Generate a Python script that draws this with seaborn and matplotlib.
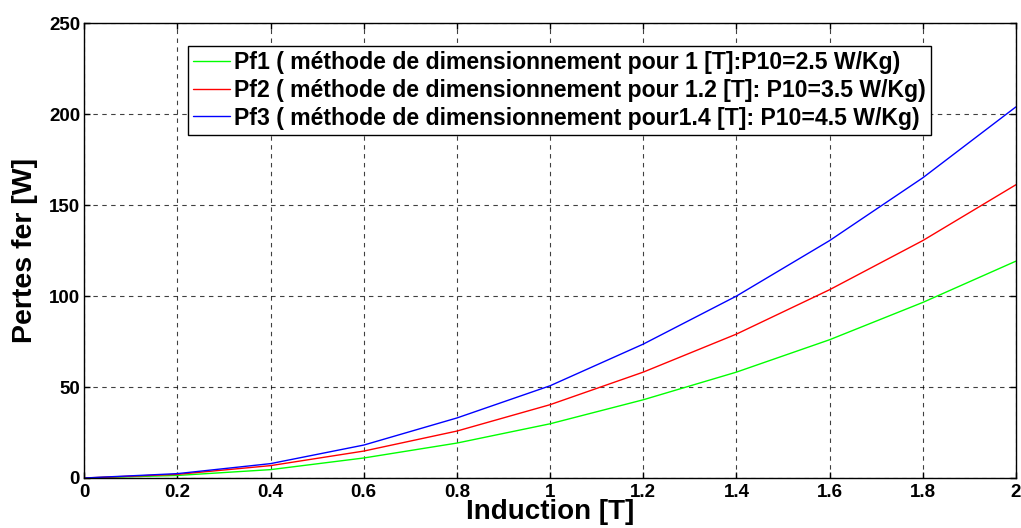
import numpy as np
import pandas as pd
import matplotlib
matplotlib.use("Agg")
import matplotlib.pyplot as plt
import seaborn as sns

induction = [0.0, 0.2, 0.4, 0.6, 0.8, 1.0, 1.2, 1.4, 1.6, 1.8, 2.0]
pf1 = [0.0, 1.4, 4.6, 11.0, 19.2, 29.8, 43.0, 58.2, 76.0, 96.5, 119.2]
pf2 = [0.0, 2.0, 6.8, 14.8, 25.8, 40.3, 58.2, 79.1, 103.5, 130.5, 161.2]
pf3 = [0.0, 2.4, 7.9, 18.1, 33.0, 50.7, 73.6, 100.0, 130.5, 165.0, 204.0]
labels = [
    "Pf1 ( méthode de dimensionnement pour 1 [T]:P10=2.5 W/Kg)",
    "Pf2 ( méthode de dimensionnement pour 1.2 [T]: P10=3.5 W/Kg)",
    "Pf3 ( méthode de dimensionnement pour1.4 [T]: P10=4.5 W/Kg)",
]
colors = ["#00ff00", "#ff0000", "#0000ff"]
xticks = [0, 0.2, 0.4, 0.6, 0.8, 1, 1.2, 1.4, 1.6, 1.8, 2]
xticklabels = ["0", "0.2", "0.4", "0.6", "0.8", "1", "1.2", "1.4", "1.6", "1.8", "2"]
yticks = [0, 50, 100, 150, 200, 250]

df = pd.DataFrame({
    "Induction": induction * 3,
    "Pertes": pf1 + pf2 + pf3,
    "serie": [labels[0]] * len(induction) + [labels[1]] * len(induction) + [labels[2]] * len(induction),
})

sns.set_theme(style="white")
plt.rcParams['font.family'] = ['Liberation Sans', 'DejaVu Sans']
plt.rcParams['font.weight'] = 'bold'
plt.rcParams['text.color'] = 'black'
plt.rcParams['axes.labelcolor'] = 'black'
plt.rcParams['xtick.color'] = 'black'
plt.rcParams['ytick.color'] = 'black'

fig = plt.figure(figsize=(10.21, 5.28), dpi=100)
ax = fig.add_axes([0.0825, 0.0947, 0.9125, 0.8613])

sns.lineplot(data=df, x="Induction", y="Pertes", hue="serie", palette=colors,
             hue_order=labels, linewidth=1.0, ax=ax, sort=False)

ax.set_xlim(0, 2)
ax.set_ylim(0, 250)
ax.set_xticks(xticks)
ax.set_xticklabels(xticklabels, fontsize=13.5, fontweight='bold')
ax.set_yticks(yticks)
ax.set_yticklabels([str(v) for v in yticks], fontsize=13.5, fontweight='bold')
ax.tick_params(direction='in', length=4, width=1, colors='black', top=True, right=True,
               bottom=True, left=True, pad=3)
ax.tick_params(axis='x', pad=4)
ax.grid(True, color='black', linestyle=(0, (4, 4)), linewidth=0.8, alpha=0.75)
for s in ax.spines.values():
    s.set_color('black')
    s.set_linewidth(1.0)

ax.set_xlabel("Induction [T]", fontsize=20, fontweight='bold', labelpad=-1)
ax.set_ylabel("Pertes fer [W]", fontsize=20.5, fontweight='bold', labelpad=8)

leg = ax.legend(loc='upper left', bbox_to_anchor=(0.111, 0.951),
                frameon=True, fancybox=False, shadow=False, borderpad=0.25,
                handlelength=1.6, handletextpad=0.15, labelspacing=0.2,
                borderaxespad=0.0, prop={'weight': 'bold', 'size': 16.6})
leg.get_frame().set_edgecolor('black')
leg.get_frame().set_linewidth(1.0)
leg.get_frame().set_alpha(1.0)

fig.savefig("out.png", dpi=100)
